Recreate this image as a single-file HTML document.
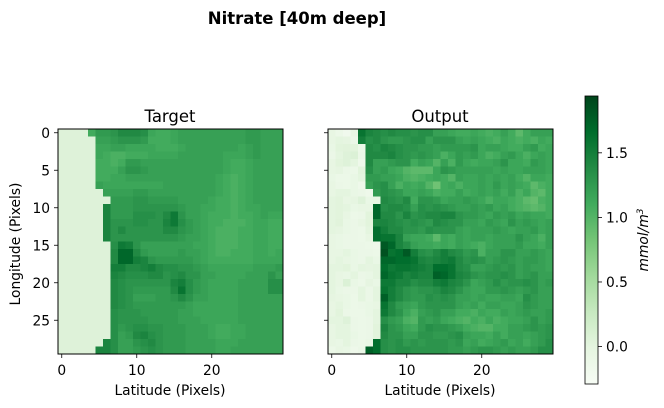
<!DOCTYPE html>
<html><head><meta charset="utf-8"><style>
html,body{margin:0;padding:0;background:#fff;}
svg{display:block;font-family:"DejaVu Sans","Liberation Sans",sans-serif;}
</style></head><body>
<svg id="chart" width="664" height="408" viewBox="0 0 664 408">
<defs><linearGradient id="cbg" x1="0" y1="1" x2="0" y2="0">
<stop offset="0" stop-color="#f7fcf5"/><stop offset="0.125" stop-color="#e5f5e0"/><stop offset="0.25" stop-color="#c7e9c0"/><stop offset="0.375" stop-color="#a1d99b"/><stop offset="0.5" stop-color="#74c476"/><stop offset="0.625" stop-color="#41ab5d"/><stop offset="0.75" stop-color="#238b45"/><stop offset="0.875" stop-color="#006d2c"/><stop offset="1" stop-color="#00441b"/></linearGradient></defs>
<text x="297" y="24" text-anchor="middle" font-size="16.5" font-weight="bold">Nitrate [40m deep]</text>
<text x="170" y="122" text-anchor="middle" font-size="16.5">Target</text>
<text x="440" y="122" text-anchor="middle" font-size="16.5">Output</text>
<text transform="translate(20,244) rotate(-90)" text-anchor="middle" font-size="13.8">Longitude (Pixels)</text>
<text x="170" y="395" text-anchor="middle" font-size="13.8">Latitude (Pixels)</text>
<text x="440" y="395" text-anchor="middle" font-size="13.8">Latitude (Pixels)</text>
<g id="target"></g>
<g id="output"></g>
<rect x="585" y="96" width="13" height="288" fill="url(#cbg)" stroke="#000" stroke-width="0.8"/>
<g id="cbticks"></g>
<text transform="translate(648,240) rotate(-90)" text-anchor="middle" font-size="13.8" font-style="italic">mmol/m<tspan font-size="9" dy="-5">3</tspan></text>
</svg>
<script>
const L=0.05;
const targetRows=[
[L,L,L,L,1.1,1.25,1.25,1.3,1.4,1.4,1.4,1.35,1.15,1.1,1.1,1.15,1.2,1.2,1.2,1.2,1.2,1.2,1.2,1.2,1.2,1.25,1.25,1.2,1.2,1.2],
[L,L,L,L,L,1.2,1.2,1.25,1.3,1.3,1.3,1.25,1.1,1.1,1.1,1.15,1.2,1.2,1.2,1.2,1.2,1.2,1.2,1.2,1.2,1.25,1.25,1.2,1.2,1.2],
[L,L,L,L,L,1.15,1.15,1.2,1.2,1.15,1.15,1.15,1.15,1.1,1.1,1.1,1.15,1.2,1.2,1.2,1.2,1.2,1.2,1.2,1.15,1.2,1.25,1.2,1.2,1.2],
[L,L,L,L,L,1.15,1.1,1.05,1.05,1.1,1.1,1.1,1.15,1.15,1.15,1.15,1.2,1.2,1.2,1.2,1.2,1.2,1.15,1.15,1.15,1.2,1.25,1.2,1.2,1.2],
[L,L,L,L,L,1.1,1.1,1.05,1.1,1.25,1.25,1.2,1.2,1.2,1.2,1.2,1.2,1.2,1.2,1.2,1.2,1.2,1.15,1.1,1.1,1.15,1.2,1.2,1.2,1.2],
[L,L,L,L,L,1.1,1.1,1.1,1.2,1.3,1.3,1.25,1.2,1.2,1.2,1.2,1.2,1.2,1.2,1.2,1.2,1.2,1.15,1.1,1.1,1.15,1.2,1.2,1.2,1.2],
[L,L,L,L,L,1.1,1.1,1.15,1.15,1.2,1.2,1.2,1.2,1.2,1.2,1.2,1.2,1.2,1.2,1.2,1.2,1.15,1.1,1.05,1.1,1.15,1.2,1.2,1.2,1.2],
[L,L,L,L,L,1.2,1.15,1.15,1.15,1.15,1.15,1.15,1.15,1.15,1.2,1.2,1.2,1.2,1.2,1.2,1.2,1.15,1.1,1.05,1.1,1.15,1.2,1.2,1.2,1.2],
[L,L,L,L,L,L,1.2,1.2,1.2,1.2,1.25,1.25,1.2,1.2,1.2,1.2,1.2,1.2,1.2,1.2,1.2,1.15,1.1,1.05,1.1,1.15,1.2,1.2,1.2,1.2],
[L,L,L,L,L,L,L,1.25,1.25,1.25,1.3,1.3,1.25,1.25,1.25,1.25,1.2,1.2,1.2,1.2,1.15,1.1,1.1,1.05,1.1,1.15,1.2,1.2,1.2,1.2],
[L,L,L,L,L,L,1.45,1.25,1.25,1.25,1.3,1.3,1.3,1.3,1.3,1.3,1.25,1.2,1.2,1.15,1.15,1.1,1.1,1.05,1.1,1.15,1.15,1.2,1.2,1.2],
[L,L,L,L,L,L,1.45,1.25,1.25,1.25,1.35,1.35,1.35,1.3,1.4,1.55,1.3,1.2,1.2,1.15,1.1,1.1,1.1,1.05,1.1,1.1,1.15,1.2,1.15,1.15],
[L,L,L,L,L,L,1.45,1.3,1.3,1.3,1.35,1.35,1.3,1.3,1.45,1.55,1.35,1.25,1.2,1.15,1.1,1.1,1.05,1.05,1.05,1.1,1.15,1.15,1.1,1.1],
[L,L,L,L,L,L,1.45,1.3,1.4,1.3,1.3,1.3,1.3,1.3,1.4,1.4,1.3,1.25,1.2,1.15,1.1,1.05,1.05,1.05,1.1,1.1,1.15,1.15,1.1,1.1],
[L,L,L,L,L,L,1.45,1.3,1.3,1.3,1.3,1.3,1.3,1.3,1.3,1.3,1.25,1.2,1.2,1.15,1.1,1.05,1.05,1.05,1.1,1.1,1.15,1.15,1.1,1.1],
[L,L,L,L,L,L,L,1.35,1.55,1.5,1.3,1.2,1.2,1.2,1.2,1.2,1.2,1.2,1.15,1.15,1.1,1.05,1.05,1.05,1.1,1.1,1.15,1.15,1.1,1.1],
[L,L,L,L,L,L,L,1.4,1.7,1.7,1.4,1.25,1.2,1.2,1.2,1.2,1.25,1.2,1.2,1.15,1.1,1.05,1.05,1.1,1.1,1.1,1.15,1.15,1.1,1.15],
[L,L,L,L,L,L,L,1.4,1.7,1.7,1.5,1.45,1.3,1.25,1.25,1.25,1.25,1.25,1.2,1.15,1.1,1.1,1.1,1.1,1.1,1.1,1.15,1.15,1.15,1.15],
[L,L,L,L,L,L,L,1.5,1.5,1.4,1.4,1.45,1.5,1.4,1.35,1.35,1.3,1.3,1.25,1.2,1.15,1.15,1.15,1.15,1.15,1.15,1.2,1.2,1.2,1.25],
[L,L,L,L,L,L,L,1.45,1.4,1.35,1.35,1.35,1.4,1.4,1.3,1.35,1.4,1.3,1.3,1.2,1.2,1.15,1.15,1.15,1.15,1.2,1.2,1.2,1.3,1.2],
[L,L,L,L,L,L,L,1.4,1.35,1.3,1.3,1.3,1.3,1.3,1.3,1.45,1.5,1.35,1.25,1.2,1.15,1.15,1.15,1.15,1.2,1.2,1.2,1.2,1.35,1.35],
[L,L,L,L,L,L,L,1.4,1.35,1.3,1.25,1.25,1.25,1.25,1.25,1.4,1.6,1.35,1.25,1.2,1.15,1.15,1.15,1.15,1.2,1.2,1.2,1.2,1.35,1.35],
[L,L,L,L,L,L,L,1.4,1.35,1.3,1.2,1.2,1.2,1.25,1.25,1.3,1.4,1.3,1.2,1.2,1.15,1.15,1.15,1.15,1.2,1.2,1.2,1.2,1.2,1.2],
[L,L,L,L,L,L,L,1.4,1.35,1.3,1.25,1.25,1.25,1.25,1.25,1.25,1.25,1.2,1.15,1.15,1.15,1.15,1.15,1.15,1.2,1.2,1.2,1.2,1.2,1.2],
[L,L,L,L,L,L,L,1.35,1.3,1.3,1.3,1.25,1.25,1.25,1.25,1.25,1.2,1.2,1.15,1.15,1.15,1.15,1.15,1.15,1.2,1.2,1.2,1.2,1.2,1.2],
[L,L,L,L,L,L,L,1.35,1.3,1.3,1.3,1.3,1.25,1.25,1.25,1.25,1.2,1.2,1.2,1.15,1.15,1.15,1.15,1.15,1.2,1.2,1.2,1.2,1.2,1.2],
[L,L,L,L,L,L,L,1.35,1.25,1.3,1.35,1.35,1.3,1.3,1.25,1.25,1.25,1.2,1.2,1.2,1.15,1.1,1.1,1.15,1.15,1.2,1.2,1.2,1.2,1.2],
[L,L,L,L,L,L,L,1.35,1.2,1.25,1.4,1.45,1.35,1.3,1.25,1.25,1.25,1.2,1.2,1.2,1.15,1.1,1.1,1.15,1.15,1.2,1.2,1.2,1.2,1.2],
[L,L,L,L,L,L,1.45,1.35,1.2,1.2,1.3,1.35,1.4,1.3,1.25,1.25,1.25,1.2,1.2,1.2,1.2,1.15,1.15,1.15,1.2,1.2,1.2,1.2,1.2,1.2],
[L,L,L,L,L,1.45,1.45,1.35,1.2,1.2,1.25,1.3,1.35,1.3,1.25,1.25,1.25,1.2,1.2,1.2,1.2,1.15,1.15,1.2,1.2,1.2,1.2,1.2,1.2,1.2]
];
const outputRows=[
[-.05,-.12,-.18,-.05,1.6,1.45,1.4,1.35,1.4,1.35,1.35,1.3,1.35,1.35,1.2,1.2,1.15,1.1,1.1,1.15,1.1,1.05,1.1,1.2,1.1,.95,1.1,1.2,1.2,1.2],
[-.05,0,-.02,-.1,1.5,1.35,1.4,1.3,1.25,1.25,1.3,1.35,1.35,1.2,1.3,1.3,1.3,1.2,1.15,1.2,1.15,1.1,1.05,1.15,1.1,1.05,1.1,1.05,1.15,1.1],
[-.08,.02,.03,.02,-.12,1.4,1.35,1.45,1.4,1.35,1.3,1.3,1.25,1.25,1.2,1.25,1.25,1.25,1.25,1.3,1.15,1.2,1.2,1.15,1.1,1.1,1.2,1.25,1.1,1.15],
[-.1,0,.05,.08,-.1,1.4,1.4,1.4,1.45,1.35,1.3,1.25,1.3,1.25,1.2,1.05,1.15,1.25,1.2,1.25,1.15,1.05,1.1,1.2,1.25,1.15,1.05,1.15,1.2,1.15],
[-.05,.02,.05,0,-.15,1.4,1.2,1.2,1.25,1.3,1.3,1.1,1.2,1.15,1.0,1.2,1.05,1.25,1.15,1.1,1.15,1.15,1.2,1.3,1.15,1.15,1.1,1.25,1.2,1.15],
[-.05,-.02,-.1,-.12,.02,1.35,1.2,1.25,1.15,1.1,1.0,.95,.95,.95,1.15,1.3,1.25,1.2,1.2,1.2,1.2,1.2,1.15,1.2,1.15,1.15,1.2,1.2,1.2,1.15],
[-.08,-.12,-.12,-.08,0,1.25,1.25,1.2,1.2,1.15,1.05,1.0,1.05,1.1,1.15,1.1,1.0,1.2,1.15,1.15,1.2,1.15,1.2,1.15,1.2,1.1,1.0,1.15,1.15,1.1],
[-.05,-.1,-.12,-.08,-.15,1.2,1.3,1.35,1.2,1.05,1.15,1.1,1.15,1.0,.85,1.1,1.15,1.05,1.15,1.15,1.2,1.15,1.25,1.15,1.2,1.15,1.1,.95,1.05,1.1],
[-.05,0,0,-.08,-.1,-.15,1.25,1.35,1.3,1.25,1.15,1.15,1.2,1.15,1.05,1.1,1.1,1.2,1.1,1.15,1.2,1.15,1.2,1.1,1.2,1.05,1.15,1.0,.95,1.1],
[0,.02,-.05,-.02,.05,-.08,-.05,1.4,1.35,1.3,1.4,1.1,1.3,1.3,1.25,1.15,1.2,1.2,1.25,1.2,1.15,1.05,1.15,1.15,1.1,1.05,.95,.9,1.05,1.1],
[0,.02,0,-.08,-.05,-.05,1.7,1.35,1.4,1.4,1.35,1.2,1.35,1.3,1.35,1.3,1.25,1.2,1.2,1.25,1.2,1.25,1.15,1.2,1.1,1.05,1.0,.95,1.0,1.1],
[0,.02,-.05,-.12,-.1,.02,1.7,1.4,1.4,1.3,1.45,1.3,1.35,1.4,1.4,1.45,1.45,1.3,1.25,1.25,1.2,1.15,1.25,1.2,1.25,1.15,1.2,1.15,1.15,1.1],
[0,.03,-.08,-.1,-.05,.02,1.45,1.45,1.4,1.35,1.3,1.35,1.3,1.25,1.4,1.35,1.3,1.3,1.2,1.2,1.15,1.25,1.2,1.15,1.3,1.2,1.25,1.2,1.15,1.2],
[0,-.02,-.08,-.1,-.12,0,1.65,1.5,1.4,1.4,1.3,1.3,1.25,1.35,1.3,1.3,1.3,1.2,1.15,1.2,1.2,1.2,1.25,1.2,1.15,1.2,1.2,1.25,1.15,1.2],
[-.05,-.08,-.1,-.1,-.12,-.05,1.65,1.6,1.6,1.45,1.2,1.15,1.15,1.1,.95,1.15,1.1,1.2,1.15,1.2,1.2,1.15,1.2,1.2,1.2,1.3,1.2,1.15,1.05,1.2],
[-.05,-.08,-.1,-.1,-.1,-.12,-.15,1.8,1.7,1.45,1.35,1.2,1.15,1.15,1.1,1.15,1.1,1.2,1.15,1.1,1.05,1.15,1.2,1.2,1.2,1.25,1.15,1.15,1.1,1.2],
[-.05,-.05,0,-.08,-.1,-.1,-.12,1.85,1.6,1.65,1.8,1.5,1.35,1.3,1.4,1.5,1.4,1.35,1.25,1.3,1.05,1.2,1.2,1.3,1.3,1.2,1.2,1.25,1.2,1.15],
[-.05,0,-.05,-.08,-.1,0,-.08,1.7,1.7,1.65,1.65,1.6,1.45,1.4,1.45,1.5,1.55,1.4,1.3,1.35,1.3,1.2,1.25,1.3,1.25,1.2,1.25,1.25,1.2,1.15],
[0,0,.02,-.08,0,-.02,0,1.65,1.55,1.6,1.6,1.55,1.5,1.45,1.65,1.65,1.6,1.4,1.35,1.2,1.2,1.25,1.3,1.25,1.3,1.2,1.25,1.2,1.2,1.15],
[0,-.05,-.08,0,-.1,-.08,0,1.7,1.6,1.55,1.45,1.5,1.45,1.45,1.75,1.7,1.6,1.45,1.4,1.3,1.25,1.3,1.3,1.35,1.3,1.2,1.25,1.3,1.2,1.2],
[0,-.05,.08,-.08,-.12,-.02,-.08,1.55,1.55,1.45,1.45,1.35,1.4,1.4,1.5,1.55,1.45,1.4,1.3,1.15,1.2,1.25,1.35,1.25,1.3,1.3,1.35,1.3,1.2,1.25],
[0,-.08,-.1,-.1,0,-.1,0,1.6,1.5,1.4,1.3,1.25,1.3,1.3,1.35,1.45,1.4,1.3,1.2,1.15,1.15,1.25,1.25,1.3,1.25,1.2,1.25,1.3,1.2,1.2],
[-.02,-.05,-.08,-.12,0,-.1,0,1.75,1.5,1.4,1.3,1.25,1.25,1.35,1.3,1.35,1.3,1.2,1.2,1.15,1.2,1.15,1.15,1.2,1.2,1.15,1.35,1.25,1.2,1.2],
[-.05,0,-.08,-.12,-.1,-.08,-.05,1.6,1.4,1.25,1.2,1.15,1.25,1.3,1.3,1.3,1.3,1.2,1.15,1.2,1.1,1.2,1.2,1.15,1.15,1.2,1.3,1.25,1.2,1.2],
[-.05,.02,-.1,-.12,-.12,-.08,0,1.55,1.4,1.3,1.15,1.05,1.2,1.25,1.3,1.2,1.2,1.1,1.1,1.05,1.15,1.1,1.1,1.2,1.15,1.2,1.25,1.2,1.2,1.25],
[0,0,.05,-.1,-.12,-.1,0,1.35,1.25,1.2,1.05,1.0,1.25,1.2,1.25,1.15,1.1,1.05,1.0,1.1,1.05,1.15,1.05,1.1,1.15,1.15,1.2,1.3,1.2,1.25],
[-.05,0,0,-.1,-.12,-.1,.02,1.45,1.3,1.25,1.15,1.1,1.25,1.35,1.3,1.3,1.25,1.2,1.1,1.05,1.0,1.0,1.1,1.1,1.2,1.2,1.25,1.3,1.25,1.3],
[-.05,0,0,-.08,-.12,-.1,.02,1.4,1.3,1.3,1.2,1.2,1.3,1.3,1.25,1.25,1.3,1.35,1.2,1.15,1.15,1.1,1.2,1.1,1.2,1.2,1.15,1.2,1.25,1.3],
[-.05,-.08,0,-.1,-.12,-.08,1.65,1.35,1.3,1.35,1.25,1.3,1.25,1.3,1.3,1.3,1.25,1.3,1.15,1.2,1.1,1.15,1.2,1.25,1.15,1.2,1.1,1.2,1.25,1.35],
[-.12,-.05,-.08,-.15,-.1,1.75,1.65,1.35,1.3,1.35,1.35,1.3,1.3,1.3,1.3,1.3,1.25,1.25,1.2,1.25,1.3,1.3,1.25,1.2,1.25,1.2,1.2,1.25,1.35,1.35]
];
const xTicks=[0,10,20];
const yTicks=[0,5,10,15,20,25];
const cbTicks=[0.0,0.5,1.0,1.5];
const VMIN=-0.29, VMAX=1.94;

const NS="http://www.w3.org/2000/svg";
const stops=[[247,252,245],[229,245,224],[199,233,192],[161,217,155],[116,196,118],[65,171,93],[35,139,69],[0,109,44],[0,68,27]];
function cmap(v){let t=(v-VMIN)/(VMAX-VMIN);t=Math.max(0,Math.min(1,t))*8;const i=Math.min(7,Math.floor(t)),f=t-i;const a=stops[i],b=stops[i+1];
return "rgb("+[0,1,2].map(k=>Math.round(a[k]+(b[k]-a[k])*f)).join(",")+")";}
function mk(tag,attrs,parent){const e=document.createElementNS(NS,tag);for(const k in attrs)e.setAttribute(k,attrs[k]);parent.appendChild(e);return e;}
const Y0=129,H=225,N=30,CS=H/N;
function panel(gid,x0,rows,showY,pname){
  const g=document.getElementById(gid);
  const xs=c=>x0+c*CS, ys=r=>Y0+r*CS;
  rows.forEach((row,r)=>row.forEach((v,c)=>{
    const e=mk('rect',{x:xs(c),y:ys(r),width:CS+0.3,height:CS+0.3,fill:cmap(v)},g);
    
    
  }));
  const fr=mk('rect',{x:x0,y:Y0,width:H,height:H,fill:'none',stroke:'#000','stroke-width':1},g);
  
  
  xTicks.forEach(t=>{const cx=xs(t)+CS/2;
    mk('line',{x1:cx,x2:cx,y1:Y0+H,y2:Y0+H+4,stroke:'#000','stroke-width':0.8},g);
    const tx=mk('text',{x:cx,y:Y0+H+21,'text-anchor':'middle','font-size':13.8},g);tx.textContent=t;
    
    
  });
  yTicks.forEach(t=>{const cy=ys(t)+CS/2;
    mk('line',{x1:x0-4,x2:x0,y1:cy,y2:cy,stroke:'#000','stroke-width':0.8},g);
    if(showY){const tx=mk('text',{x:x0-8,y:cy+5,'text-anchor':'end','font-size':13.8},g);tx.textContent=t;
      
      }
  });
}
panel('target',58,targetRows,true,'target');
panel('output',328,outputRows,false,'output');
const cb=document.getElementById('cbticks');
const cbY=v=>384-(v-VMIN)/(VMAX-VMIN)*288;
cbTicks.forEach(v=>{const y=cbY(v);
  mk('line',{x1:598,x2:602,y1:y,y2:y,stroke:'#000','stroke-width':0.8},cb);
  const tx=mk('text',{x:606,y:y+5,'font-size':13.8},cb);tx.textContent=v.toFixed(1);
  
  
});
</script>
</body></html>
